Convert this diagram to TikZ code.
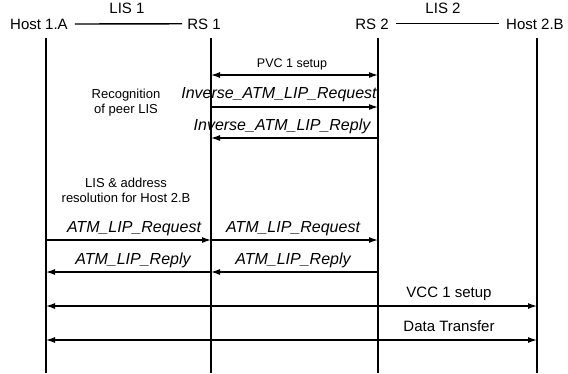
\documentclass[tikz,border=0pt]{standalone}
\usepackage{fontspec}
\setmainfont{Liberation Sans}
\usetikzlibrary{arrows.meta}
\begin{document}
\begin{tikzpicture}[x=1pt,y=-1pt,
  hdr/.style={font=\fontsize{15}{15}\selectfont, inner sep=0pt, anchor=base},
  msg/.style={font=\fontsize{16}{16}\selectfont\itshape, inner sep=0pt, anchor=base},
  lbl/.style={font=\fontsize{12.5}{12.5}\selectfont, inner sep=0pt, anchor=base},
  note/.style={font=\fontsize{13}{15}\selectfont, align=center, inner sep=0pt},
  life/.style={line width=1.3pt},
  hline/.style={line width=1.3pt},
  arr/.style={line width=1.2pt, -{Latex[length=9pt,width=6pt]}},
  darr/.style={line width=1.2pt, {Latex[length=9pt,width=6pt]}-{Latex[length=9pt,width=6pt]}}]
\useasboundingbox (0,0) rectangle (568,373);

% header
\node[hdr] (h1) at (39,29) {Host 1.A};
\node[hdr] (rs1) at (204,29) {RS 1};
\node[hdr] (rs2) at (372,29) {RS 2};
\node[hdr] (h2) at (535,29) {Host 2.B};
\node[hdr] (lis1) at (127,13.5) {LIS 1};
\node[hdr] (lis2) at (443,13.5) {LIS 2};
\draw[hline] ([xshift=7pt]h1.east) -- ([xshift=-5pt]rs1.west);
\draw[hline] ([xshift=7pt]rs2.east) -- ([xshift=-7pt]h2.west);

% lifelines
\coordinate (h1t) at (46,38);  \coordinate (h1b) at (46,373);
\coordinate (r1t) at (211,38); \coordinate (r1b) at (211,373);
\coordinate (r2t) at (378,38); \coordinate (r2b) at (378,373);
\coordinate (h2t) at (537,38); \coordinate (h2b) at (537,373);
\draw[life] (h1t) -- (h1b);
\draw[life] (r1t) -- (r1b);
\draw[life] (r2t) -- (r2b);
\draw[life] (h2t) -- (h2b);

% message end points
\coordinate (a1) at (211,75);  \coordinate (a2) at (378,75);
\coordinate (b1) at (211,107); \coordinate (b2) at (378,107);
\coordinate (c1) at (211,138); \coordinate (c2) at (378,138);
\coordinate (d0) at (46,240);  \coordinate (d1) at (211,240); \coordinate (d2) at (378,240);
\coordinate (e0) at (46,272);  \coordinate (e1) at (211,272); \coordinate (e2) at (378,272);
\coordinate (f0) at (46,306);  \coordinate (f3) at (537,306);
\coordinate (g0) at (46,340);  \coordinate (g3) at (537,340);

% messages
\draw[darr] (a1) -- (a2);
\node[lbl] (pvc) at (292,67) {PVC 1 setup};

\draw[arr] (b1) -- (b2);
\node[msg] (invreq) at (279,98) {Inverse\_ATM\_LIP\_Request};

\draw[arr] (c2) -- (c1);
\node[msg] (invrep) at (282,130) {Inverse\_ATM\_LIP\_Reply};

\node[note] (recog) at (126,103) {Recognition\\of peer LIS};
\node[note] (lisaddr) at (126,190) {LIS \& address\\resolution for Host 2.B};

\draw[arr] (d0) -- (d1);
\node[msg] (req1) at (134,232) {ATM\_LIP\_Request};
\draw[arr] (d1) -- (d2);
\node[msg] (req2) at (293,232) {ATM\_LIP\_Request};

\draw[arr] (e1) -- (e0);
\node[msg] (rep1) at (133,264) {ATM\_LIP\_Reply};
\draw[arr] (e2) -- (e1);
\node[msg] (rep2) at (293,264) {ATM\_LIP\_Reply};

\draw[darr] (f0) -- (f3);
\node[hdr] (vcc) at (449,297) {VCC 1 setup};
\draw[darr] (g0) -- (g3);
\node[hdr] (data) at (449,331) {Data Transfer};
\end{tikzpicture}
\end{document}
